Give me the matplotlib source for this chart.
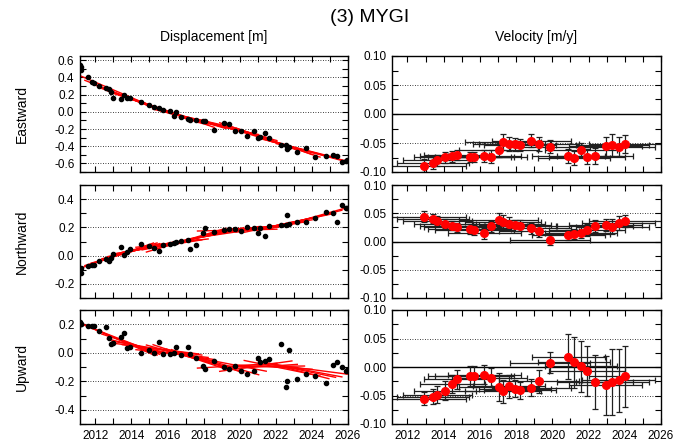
import matplotlib
matplotlib.use("Agg")
import matplotlib.pyplot as plt
import numpy as np
from matplotlib.ticker import MultipleLocator, FormatStrFormatter

plt.rcParams['font.family'] = ['Liberation Sans', 'DejaVu Sans']

# Observed displacement (m), epochs shared by the three components
t_obs = [2011.15, 2011.18, 2011.21, 2011.57, 2011.80, 2011.92, 2012.22, 2012.59, 2012.78, 2012.85,
         2013.00, 2013.42, 2013.61, 2013.76, 2013.92, 2014.53, 2015.00, 2015.24, 2015.55, 2015.74,
         2016.11, 2016.35, 2016.48, 2016.75, 2017.12, 2017.25, 2017.59, 2017.94, 2018.05, 2018.57,
         2019.12, 2019.38, 2019.75, 2020.08, 2020.41, 2020.78, 2021.03, 2021.10, 2021.41, 2021.62,
         2022.30, 2022.54, 2022.60, 2022.71, 2023.17, 2023.69, 2024.15, 2024.80, 2025.17, 2025.40,
         2025.69, 2025.87, 2025.94]
east = [0.55, 0.52, 0.49, 0.40, 0.35, 0.33, 0.30, 0.275, 0.27, 0.23,
        0.16, 0.155, 0.20, 0.16, 0.16, 0.11, 0.085, 0.058, 0.046, 0.027,
        0.015, -0.05, -0.004, -0.062, -0.081, -0.10, -0.097, -0.104, -0.108, -0.21,
        -0.128, -0.147, -0.22, -0.22, -0.28, -0.22, -0.30, -0.29, -0.25, -0.31,
        -0.38, -0.38, -0.43, -0.41, -0.47, -0.42, -0.52, -0.51, -0.50, -0.51,
        -0.58, -0.57, -0.565]
north = [-0.10, -0.088, -0.124, -0.076, -0.069, -0.067, -0.040, -0.024, -0.040, -0.017,
         0.014, 0.060, 0.007, 0.026, 0.050, 0.079, 0.067, 0.055, 0.036, 0.074,
         0.083, 0.086, 0.095, 0.107, 0.114, 0.048, 0.074, 0.157, 0.198, 0.169,
         0.179, 0.186, 0.186, 0.174, 0.202, 0.198, 0.162, 0.193, 0.138, 0.210,
         0.217, 0.217, 0.29, 0.226, 0.240, 0.238, 0.269, 0.312, 0.305, 0.238,
         0.355, 0.340, 0.335]
up = [0.214, 0.20, 0.205, 0.185, 0.185, 0.19, 0.154, 0.178, 0.107, 0.059,
      0.066, 0.114, 0.138, 0.036, 0.043, 0.0, 0.019, 0.0, 0.076, -0.012,
      -0.007, 0.0, 0.043, -0.017, 0.043, -0.012, -0.040, -0.090, -0.112, -0.055,
      -0.10, -0.112, -0.090, -0.130, -0.150, -0.126, -0.040, -0.064, -0.059, -0.043,
      0.059, -0.237, -0.197, 0.017, -0.183, -0.150, -0.161, -0.214, -0.088, -0.066,
      -0.100, -0.126, -0.12]

# Velocity estimates (m/y): window centre, half window, value, 1-sigma
t_vel = [2012.92, 2013.42, 2013.66, 2014.06, 2014.47, 2014.73, 2015.43, 2015.70, 2016.25, 2016.59,
         2017.03, 2017.30, 2017.62, 2017.93, 2018.22, 2018.85, 2019.27, 2019.86, 2020.89, 2021.19,
         2021.59, 2021.91, 2022.35, 2022.94, 2023.31, 2023.66, 2024.03]
half_win = [2.3, 2.0, 1.9, 1.7, 1.8, 1.8, 2.3, 2.2, 2.0, 2.0,
            2.2, 2.1, 2.0, 2.0, 2.0, 2.2, 2.2, 2.2, 2.0, 2.0,
            2.0, 2.1, 2.1, 2.0, 2.0, 2.0, 2.0]
v_east = [-0.0894, -0.084, -0.080, -0.0747, -0.073, -0.0706, -0.074, -0.074, -0.072, -0.0735,
          -0.0618, -0.048, -0.052, -0.052, -0.0535, -0.046, -0.052, -0.0565, -0.072, -0.0753,
          -0.0618, -0.0735, -0.072, -0.0559, -0.053, -0.0565, -0.052]
e_east = [0.011, 0.010, 0.009, 0.009, 0.009, 0.009, 0.009, 0.009, 0.010, 0.011,
          0.012, 0.014, 0.012, 0.011, 0.011, 0.011, 0.012, 0.011, 0.012, 0.012,
          0.012, 0.013, 0.014, 0.016, 0.019, 0.016, 0.015]
v_north = [0.0441, 0.040, 0.0365, 0.0318, 0.0282, 0.0253, 0.0218, 0.020, 0.0147, 0.027,
           0.0382, 0.0353, 0.0318, 0.0288, 0.0282, 0.0235, 0.0188, 0.0029, 0.0118, 0.0135,
           0.0159, 0.0206, 0.027, 0.0294, 0.0265, 0.0329, 0.0359]
e_north = [0.009, 0.008, 0.008, 0.008, 0.008, 0.008, 0.009, 0.009, 0.010, 0.010,
           0.013, 0.012, 0.011, 0.010, 0.010, 0.010, 0.010, 0.009, 0.009, 0.009,
           0.009, 0.010, 0.011, 0.011, 0.014, 0.012, 0.011]
v_up = [-0.0555, -0.052, -0.049, -0.0413, -0.030, -0.0218, -0.0159, -0.0165, -0.0136, -0.0189,
        -0.0354, -0.0425, -0.0336, -0.0383, -0.0407, -0.0366, -0.0248, 0.0077, 0.0183, 0.0083,
        0.0012, -0.0071, -0.026, -0.0324, -0.0265, -0.0236, -0.0165]
e_up = [0.012, 0.013, 0.015, 0.017, 0.016, 0.016, 0.018, 0.018, 0.017, 0.017,
        0.024, 0.020, 0.020, 0.015, 0.015, 0.015, 0.020, 0.019, 0.040, 0.045,
        0.045, 0.044, 0.047, 0.052, 0.058, 0.056, 0.053]

row_names = ["Eastward", "Northward", "Upward"]
disp_series = [east, north, up]
vel_series = [v_east, v_north, v_up]
err_series = [e_east, e_north, e_up]
disp_ylim = [(-0.7, 0.65), (-0.3, 0.5), (-0.5, 0.3)]
disp_yticks = [np.arange(-0.6, 0.61, 0.2), np.arange(-0.2, 0.41, 0.2), np.arange(-0.4, 0.21, 0.2)]

XMIN, XMAX = 2011.15, 2026.0

fig = plt.figure(figsize=(7.0, 4.46), dpi=100)

fig.text(370 / 700, 1 - 17.5 / 446, "(3) MYGI", ha="center", va="center", fontsize=14)
fig.text(214 / 700, 1 - 37 / 446, "Displacement [m]", ha="center", va="center", fontsize=10)
fig.text(536 / 700, 1 - 37 / 446, "Velocity [m/y]", ha="center", va="center", fontsize=10)

rows_px = [(56, 172), (185, 298), (310, 424)]


def style_axis(ax):
    ax.set_xlim(XMIN, XMAX)
    ax.xaxis.set_major_locator(MultipleLocator(2))
    ax.xaxis.set_minor_locator(MultipleLocator(1))
    ax.tick_params(which="both", direction="in", top=True, right=True,
                   length=4, width=0.8, labelsize=8.5, pad=4)
    for s in ax.spines.values():
        s.set_linewidth(1.0)


t_obs_a = np.array(t_obs)
for i in range(3):
    top, bot = rows_px[i]
    y0 = 1 - bot / 446
    h = (bot - top) / 446

    # displacement panel
    ax = fig.add_axes([80 / 700, y0, 268 / 700, h])
    style_axis(ax)
    d = np.array(disp_series[i])
    ax.set_ylim(*disp_ylim[i])
    ax.set_yticks(disp_yticks[i])
    ax.yaxis.set_minor_locator(MultipleLocator(0.1))
    ax.yaxis.set_major_formatter(FormatStrFormatter("%.1f"))
    for yt in disp_yticks[i]:
        ax.axhline(yt, color="black", lw=0.6, ls=(0, (1, 2)), zorder=0)
    # window fits: slope from the velocity panel, offset from the points in the window
    for tc, hw, v in zip(t_vel, half_win, vel_series[i]):
        m = np.abs(t_obs_a - tc) <= hw
        b = np.mean(d[m] - v * (t_obs_a[m] - tc))
        ts = np.array([tc - hw, tc + hw])
        ax.plot(ts, b + v * (ts - tc), color="red", lw=1.0, zorder=2)
    ax.plot(t_obs_a, d, "o", color="black", ms=3, zorder=3)
    ax.set_ylabel(row_names[i], fontsize=10)
    ax.yaxis.set_label_coords(-0.19, 0.5)
    if i < 2:
        ax.tick_params(labelbottom=False)

    # velocity panel
    ax2 = fig.add_axes([392 / 700, y0, 269 / 700, h])
    style_axis(ax2)
    ax2.set_ylim(-0.1, 0.1)
    ax2.yaxis.set_major_locator(MultipleLocator(0.05))
    ax2.yaxis.set_minor_locator(MultipleLocator(0.025))
    ax2.yaxis.set_major_formatter(FormatStrFormatter("%.2f"))
    for yt in (-0.05, 0.05):
        ax2.axhline(yt, color="black", lw=0.6, ls=(0, (1, 2)), zorder=0)
    ax2.axhline(0, color="black", lw=1.0, zorder=1)
    ax2.errorbar(t_vel, vel_series[i], xerr=half_win, yerr=err_series[i], fmt="none",
                 ecolor="#202020", elinewidth=0.9, capsize=2.2, capthick=0.9, zorder=2)
    ax2.plot(t_vel, vel_series[i], "o", color="red", ms=5.5, zorder=3)
    if i < 2:
        ax2.tick_params(labelbottom=False)

plt.savefig("out.png", dpi=100)
